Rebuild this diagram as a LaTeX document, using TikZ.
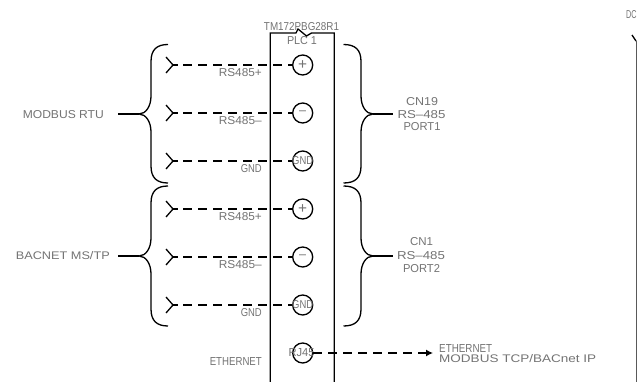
\documentclass[tikz,border=0pt]{standalone}
\usepackage{fontspec}
\usepackage{graphicx}
\setmainfont{Liberation Sans}
\usetikzlibrary{arrows.meta}
\definecolor{lab}{gray}{0.45}
\newcommand{\fit}[2]{\resizebox{#1pt}{8pt}{#2}}
\tikzset{
  x=1pt,y=-1pt,
  lbl/.style={inner sep=0pt,text=lab},
  hw/.style={line width=1.3pt,draw=black},
  term/.style={circle,draw=black,line width=1.3pt,minimum size=20pt,inner sep=0pt,fill=none},
  wire/.style={line width=1.3pt,draw=black,dash pattern=on 9pt off 6pt},
  brace/.style={line width=1.3pt,draw=black},
}
\begin{document}
\begin{tikzpicture}
\useasboundingbox (0,0) rectangle (637,382);
% module outline
\draw[hw] (270.3,382) -- (270.3,33) -- (296,33) -- (298,29) -- (306.5,36) -- (311.5,33) -- (334.3,33) -- (334.3,382);
% terminals
\foreach \n/\y in {a/65,b/113,c/161,d/209,e/257,f/305,g/353}{
  \node[term] (t\n) at (302.7,\y) {};
}
\foreach \n/\y in {a/65,b/113,c/161,d/209,e/257,f/305}{
  \coordinate (s\n) at (183,\y);
  \draw[hw] (166,\y-8) -- (173,\y) -- (166,\y+8);
  \draw[hw] (173,\y) -- (177.5,\y);
}
\node[lbl] at (ta) {\resizebox{9pt}{!}{+}};
\node[lbl] at (tb) {\resizebox{7pt}{!}{–}};
\node[lbl] at (tc) {\fit{21}{GND}};
\node[lbl] at (td) {\resizebox{9pt}{!}{+}};
\node[lbl] at (te) {\resizebox{7pt}{!}{–}};
\node[lbl] at (tf) {\fit{21}{GND}};
\node[lbl] at (301.5,353) {\fit{26}{RJ45}};
% wires
\foreach \n in {a,b,c,d,e,f}{ \draw[wire] (s\n) -- (t\n); }
\coordinate (eth) at (433,353);
\draw[wire,-{Latex[length=7pt,width=7pt]}] (tg.east) -- (eth);
% braces
\foreach \n/\t/\m/\b in {A/44.5/114/183,B/186/256/326}{
  \coordinate (L\n) at (118,\m);
  \coordinate (R\n) at (393,\m);
  \draw[brace] (168,\t) .. controls (157,\t) and (151,\t+5) .. (151,\t+17) -- (151,\m-18) .. controls (151,\m-8) and (146,\m) .. (139,\m) .. controls (146,\m) and (151,\m+8) .. (151,\m+18) -- (151,\b-17) .. controls (151,\b-5) and (157,\b) .. (168,\b);
  \draw[brace] (343.5,\t) .. controls (355,\t) and (361,\t+5) .. (361,\t+17) -- (361,\m-18) .. controls (361,\m-8) and (366,\m) .. (373,\m) .. controls (366,\m) and (361,\m+8) .. (361,\m+18) -- (361,\b-17) .. controls (361,\b-5) and (355,\b) .. (343.5,\b);
  \draw[hw] (L\n) -- (139,\m);
  \draw[hw] (373,\m) -- (R\n);
}
% right edge
\draw[line width=1.3pt] (632,35) -- (636,41);
\draw[line width=.7pt,draw=black!65] (636.5,41) -- (636.5,382);
% labels
\node[lbl] at (301.5,27) {\fit{75}{TM172PBG28R1}};
\node[lbl] at (302,41) {\fit{30}{PLC 1}};
\node[lbl,anchor=east] at (262,73) {\fit{43}{RS485+}};
\node[lbl,anchor=east] at (262,121) {\fit{43}{RS485–}};
\node[lbl,anchor=east] at (262,169) {\fit{21}{GND}};
\node[lbl,anchor=east] at (262,217) {\fit{43}{RS485+}};
\node[lbl,anchor=east] at (262,265) {\fit{43}{RS485–}};
\node[lbl,anchor=east] at (262,313) {\fit{21}{GND}};
\node[lbl,anchor=east] at (262,361) {\fit{52}{ETHERNET}};
\node[lbl,anchor=east] at (104,115) {\fit{81}{MODBUS RTU}};
\node[lbl,anchor=east] at (110,256) {\fit{94}{BACNET MS/TP}};
\node[lbl] at (422,102) {\fit{32}{CN19}};
\node[lbl] at (421.5,115) {\fit{48}{RS–485}};
\node[lbl] at (422,127) {\fit{37}{PORT1}};
\node[lbl] at (421.5,242) {\fit{23}{CN1}};
\node[lbl] at (421,256) {\fit{48}{RS–485}};
\node[lbl] at (421.5,269) {\fit{37}{PORT2}};
\node[lbl,anchor=west] at (439,348) {\fit{53}{ETHERNET}};
\node[lbl,anchor=west] at (439,359) {\fit{157}{MODBUS TCP/BACnet IP}};
\node[lbl,anchor=west] at (626,15) {\fit{10.5}{DC}};
\end{tikzpicture}
\end{document}
